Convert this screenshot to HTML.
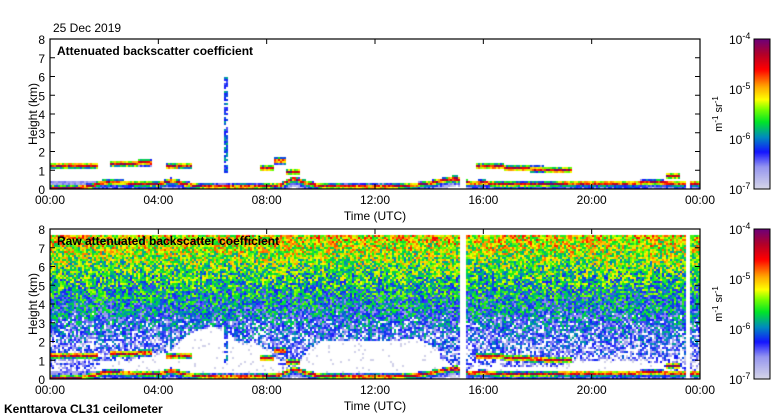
<!DOCTYPE html>
<html><head><meta charset="utf-8">
<style>
body{margin:0;background:#fff;width:780px;height:420px;overflow:hidden;position:relative;font-family:"Liberation Sans",sans-serif}
canvas{position:absolute;left:0;top:0}
svg{position:absolute;left:0;top:0}
</style></head><body>
<canvas id="cv" width="780" height="420"></canvas>
<svg id="ov" width="780" height="420"></svg>
<script>
// ---- data (half-hour grid, 0..24 h) ----
const hours = [0,0.5,1,1.5,2,2.5,3,3.5,4,4.5,5,5.5,6,6.5,7,7.5,8,8.5,9,9.5,10,10.5,11,11.5,12,12.5,13,13.5,14,14.5,15,15.5,16,16.5,17,17.5,18,18.5,19,19.5,20,20.5,21,21.5,22,22.5,23,23.5,24];
const layerHeight = [1.25,1.25,1.25,1.25,0,1.35,1.35,1.4,0,1.2,1.25,0,0,0,0,0,1.1,1.5,0.9,0,0,0,0,0,0,0,0,0,0,0,0.5,0,1.2,1.2,1.1,1.1,1.05,1.0,1.0,0,0,0,0,0,0,0,0.7,0,0];
const surfaceHeight = [0.05,0.05,0.05,0.15,0.35,0.35,0.3,0.28,0.25,0.45,0.25,0.15,0.12,0.12,0.12,0.12,0.15,0.2,0.55,0.3,0.15,0.15,0.12,0.12,0.12,0.12,0.15,0.2,0.3,0.45,0.6,0.3,0.35,0.25,0.25,0.25,0.25,0.25,0.3,0.3,0.3,0.3,0.3,0.3,0.35,0.35,0.3,0.3,0.3];
const clearTop = [0,0,0,0.3,1.0,1.0,1.0,1.2,1.3,1.5,2.3,2.6,2.8,2.6,1.8,2.0,1.5,0.6,0.5,1.5,2.0,2.0,2.0,2.0,2.0,2.0,2.1,2.2,1.8,1.0,0.5,0.5,0.8,0.6,0.6,0.6,0.6,0.6,0.7,1.0,1.0,1.0,1.0,1.0,0.9,0.8,0.5,0.3,0.3];
const gapStart = [15.15,23.48];
const gapEnd = [15.38,23.64];
const tickLabels = ["00:00","04:00","08:00","12:00","16:00","20:00","00:00"];
const heightTicks = [0,1,2,3,4,5,6,7,8];
const cbLabels = ["-4","-5","-6","-7"];

const X0=50,X1=700;
const panels=[{top:39,bot:189,raw:false},{top:229,bot:379,raw:true}];
const xOf=t=>X0+(X1-X0)*t/24;
function interp(arr,t){const i=Math.min(47,Math.floor(t/0.5));const f=(t-hours[i])/0.5;return arr[i]*(1-f)+arr[i+1]*f;}
function near(arr,t){return arr[Math.min(48,Math.round(t/0.5))];}
function hash(a,b){let h=(a*374761393+b*668265263)|0;h=(h^(h>>>13))*1274126177|0;h=h^(h>>>16);return ((h>>>0)%10000)/10000;}
const stops=[[-7,[216,216,232]],[-6.55,[150,150,240]],[-6.25,[20,20,255]],[-5.95,[0,140,190]],[-5.65,[0,230,40]],[-5.4,[120,255,0]],[-5.2,[255,255,0]],[-4.95,[255,170,0]],[-4.6,[255,0,0]],[-4.3,[180,0,40]],[-4,[110,0,120]]];
function col(v){if(v<=stops[0][0])return stops[0][1];for(let i=1;i<stops.length;i++){if(v<=stops[i][0]){const a=stops[i-1],b=stops[i];const f=(v-a[0])/(b[0]-a[0]);return a[1].map((c,k)=>Math.round(c+(b[1][k]-c)*f));}}return stops[stops.length-1][1];}
function feature(t,h,a,b){
  let v=-9;
  const L=near(layerHeight,t);
  if(L>0){const d=Math.abs(h-L);if(d<0.18){v=Math.max(v,-4.15-d*12+(hash(a,b*3)-0.5)*0.8);}}
  const S=interp(surfaceHeight,t);
  const d2=Math.abs(h-S);
  if(d2<0.15) v=Math.max(v,-4.15-d2*14+(hash(a*5,b)-0.5)*0.8);
  if(h<S) v=Math.max(v,-5.6-(S-h)*3+(hash(a,b*7)-0.5)*0.6);
  if(t<1.8 && h<0.45) v=Math.max(v,-6.6+(hash(a*3,b*11)-0.5)*0.3);
  if(Math.abs(t-6.5)<0.05 && h>0.8 && h<6 && hash(a,b)>0.3) v=Math.max(v,-6.1+(hash(b,a)-0.5)*0.6);
  return v;
}
const cv=document.getElementById('cv');const ctx=cv.getContext('2d');
ctx.fillStyle='#fff';ctx.fillRect(0,0,780,420);
panels.forEach((p,pi)=>{
  const H=p.bot-p.top;
  for(let x=X0;x<X1;x+=2){
    const t=(x-X0+1)/(X1-X0)*24;
    let gap=false;for(let g=0;g<gapStart.length;g++)if(t>=gapStart[g]&&t<=gapEnd[g])gap=true;
    for(let y=p.top;y<p.bot;y+=2){
      const h=(p.bot-y-1)/H*8;
      if(gap){continue;}
      let v=feature(t,h,x,y+pi*1000);
      if(p.raw){
        if(h>7.7)continue;
        const ct=interp(clearTop,t);
        const n=hash(x*7+1,y*13+3)*2-1;
        let nv;
        if(h<ct){nv = hash(x,y)<0.06?-6.95:-9;}
        else{nv=-6.85+1.75*Math.pow(h/7.7,1.1)+n*0.6;if(nv<-6.7)nv=(hash(y,x)<0.2?-6.95:-9);}
        v=Math.max(v,nv);
      }
      if(v<-7.05)continue;
      const c=col(v);ctx.fillStyle=`rgb(${c[0]},${c[1]},${c[2]})`;ctx.fillRect(x,y,2,2);
    }
  }
});
// colorbars
panels.forEach(p=>{for(let y=p.top;y<p.bot;y++){const v=-4-3*(y-p.top)/(p.bot-p.top);const c=col(v);ctx.fillStyle=`rgb(${c[0]},${c[1]},${c[2]})`;ctx.fillRect(754,y,16,1);}});

// ---- overlay ----
const svg=document.getElementById('ov');const NS='http://www.w3.org/2000/svg';
function el(tag,attrs,txt){const e=document.createElementNS(NS,tag);for(const k in attrs)e.setAttribute(k,attrs[k]);if(txt!==undefined)e.textContent=txt;svg.appendChild(e);return e;}
let e=el('text',{x:53,y:32,'font-size':12},'25 Dec 2019');


const titles=['Attenuated backscatter coefficient','Raw attenuated backscatter coefficient'];
panels.forEach((p,pi)=>{
  e=el('rect',{x:X0,y:p.top,width:X1-X0,height:p.bot-p.top,fill:'none',stroke:'#000','stroke-width':1.2});
  
  
  heightTicks.forEach(k=>{const y=p.bot-(p.bot-p.top)*k/8;
    e=el('line',{x1:X0,x2:X0+5,y1:y,y2:y,stroke:'#000'});
    
    
    e=el('line',{x1:X1-5,x2:X1,y1:y,y2:y,stroke:'#000'});
    
    
    e=el('text',{x:45,y:y+5,'font-size':12,'text-anchor':'end'},String(k));
    
    
  });
  tickLabels.forEach((lab,i)=>{const x=xOf(i*4);
    e=el('line',{x1:x,x2:x,y1:p.top,y2:p.top+5,stroke:'#000'});
    
    
    e=el('line',{x1:x,x2:x,y1:p.bot-5,y2:p.bot,stroke:'#000'});
    
    
    e=el('text',{x:x,y:p.bot+15,'font-size':12,'text-anchor':'middle'},lab);
    
    
  });
  e=el('text',{x:375,y:p.bot+31,'font-size':12,'text-anchor':'middle'},'Time (UTC)');
  
  
  e=el('text',{x:0,y:0,'font-size':12,'text-anchor':'middle',transform:`translate(37,${(p.top+p.bot)/2}) rotate(-90)`},'Height (km)');
  
  
  e=el('text',{x:57,y:p.top+16,'font-size':12,'font-weight':'bold'},titles[pi]);
  
  
  e=el('rect',{x:754,y:p.top,width:16,height:p.bot-p.top,fill:'none',stroke:'#000'});
  
  
  cbLabels.forEach((l,i)=>{const y=p.top+(p.bot-p.top)*i/3;
    const t=el('text',{x:729,y:y+5,'font-size':12});
    t.innerHTML='10<tspan dy="-5" font-size="9">'+l+'</tspan>';
    
    
  });
  const u=el('text',{x:0,y:0,'font-size':11,'text-anchor':'middle',transform:`translate(722,${(p.top+p.bot)/2}) rotate(-90)`});
  u.innerHTML='m<tspan dy="-4" font-size="8">-1</tspan><tspan dy="4"> sr</tspan><tspan dy="-4" font-size="8">-1</tspan>';
  
  
});
e=el('text',{x:4,y:413,'font-size':12,'font-weight':'bold'},'Kenttarova CL31 ceilometer');


</script>
</body></html>
